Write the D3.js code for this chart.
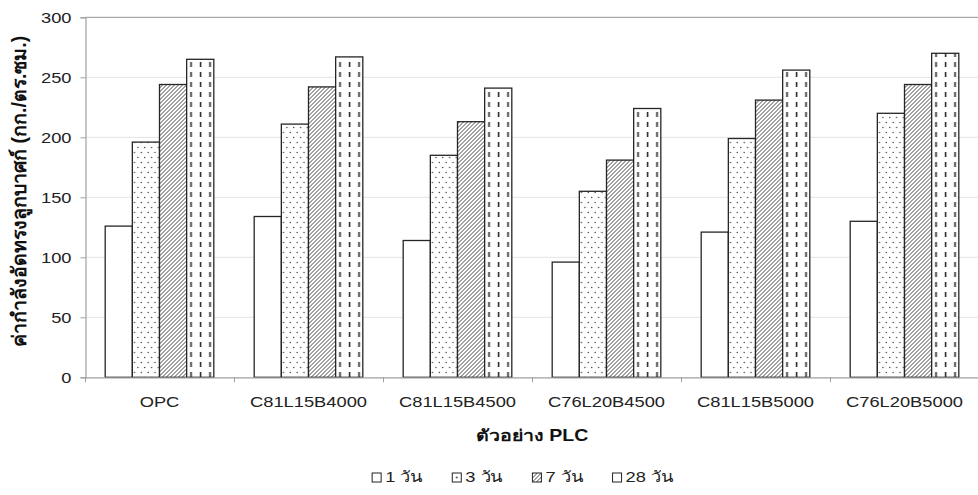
<!DOCTYPE html>
<html>
<head>
<meta charset="utf-8">
<script src="https://cdn.jsdelivr.net/npm/d3@7"></script>
<style>
  html, body { margin: 0; padding: 0; background: #fff; }
  svg { display: block; font-family: "Liberation Sans", Arial, "Noto Sans", sans-serif; }
</style>
</head>
<body>
<svg id="chart" width="978" height="495"></svg>
<script>
// ---- data ----
const categories = ["OPC", "C81L15B4000", "C81L15B4500", "C76L20B4500", "C81L15B5000", "C76L20B5000"];
const seriesNames = ["1 วัน", "3 วัน", "7 วัน", "28 วัน"];
const day1  = [126, 134, 114, 96, 121, 130];
const day3  = [196, 211, 185, 155, 199, 220];
const day7  = [244, 242, 213, 181, 231, 244];
const day28 = [265, 267, 241, 224, 256, 270];
const yTicks = [0, 50, 100, 150, 200, 250, 300];
const yLabel = "ค่ากำลังอัดทรงลูกบาศก์ (กก./ตร.ซม.)";
const xLabel = "ตัวอย่าง PLC";

(function () {
const seriesValues = [day1, day3, day7, day28];
const fills = ["#fff", "url(#pDots)", "url(#pHatch)", "url(#pDash)"];
const legendFills = ["#fff", "url(#pDotsL)", "url(#pHatch)", "#fff"];

const W = 978, H = 495;
const mLeft = 85.5, mRight = 979, mTop = 17.3, mBottom = 377.3;
const SX = 1.22; // horizontal stretch of text

const svg = d3.select("#chart");
const defs = svg.append("defs");

// dots pattern (staggered)
const pd = defs.append("pattern").attr("id", "pDots").attr("patternUnits", "userSpaceOnUse")
  .attr("width", 6.8).attr("height", 10);
pd.append("rect").attr("width", 6.8).attr("height", 10).attr("fill", "#fff");
pd.append("circle").attr("cx", 2.2).attr("cy", 2.5).attr("r", 0.75).attr("fill", "#444");
pd.append("circle").attr("cx", 5.6).attr("cy", 7.5).attr("r", 0.75).attr("fill", "#444");

const pdl = defs.append("pattern").attr("id", "pDotsL").attr("patternUnits", "userSpaceOnUse")
  .attr("width", 9).attr("height", 9);
pdl.append("rect").attr("width", 9).attr("height", 9).attr("fill", "#fff");
pdl.append("circle").attr("cx", 4.5).attr("cy", -4.5).attr("r", 0.9).attr("fill", "#333");
pdl.append("circle").attr("cx", 4.5).attr("cy", 4.5).attr("r", 0.9).attr("fill", "#333");

// diagonal hatch
const ph = defs.append("pattern").attr("id", "pHatch").attr("patternUnits", "userSpaceOnUse")
  .attr("width", 4).attr("height", 4);
ph.append("rect").attr("width", 4).attr("height", 4).attr("fill", "#fff");
ph.append("path").attr("d", "M-1,1 L1,-1 M0,4 L4,0 M3,5 L5,3")
  .attr("stroke", "#4a4a4a").attr("stroke-width", 1.0);

// vertical dashes
const pdash = defs.append("pattern").attr("id", "pDash").attr("patternUnits", "userSpaceOnUse")
  .attr("width", 9.5).attr("height", 10);
pdash.append("rect").attr("width", 9.5).attr("height", 10).attr("fill", "#fff");
pdash.append("line").attr("x1", 4.4).attr("x2", 4.4).attr("y1", 2).attr("y2", 7)
  .attr("stroke", "#2a2a2a").attr("stroke-width", 1.6);

// ---- scales ----
const x0 = d3.scaleBand().domain(categories).range([mLeft - 0.5, mRight])
  .paddingInner(0.271).paddingOuter(0.1355);
const x1 = d3.scaleBand().domain(d3.range(seriesNames.length)).range([0, x0.bandwidth()]);
const y = d3.scaleLinear().domain([0, 300]).range([mBottom, mTop]);

// gridlines
svg.append("g").selectAll("line").data(yTicks.filter(t => t > 0 && t < 300)).join("line")
  .attr("x1", mLeft).attr("x2", W).attr("y1", d => y(d)).attr("y2", d => y(d))
  .attr("stroke", "#e3e3e3").attr("stroke-width", 1);
// top border
svg.append("line").attr("x1", mLeft).attr("x2", W).attr("y1", y(300)).attr("y2", y(300))
  .attr("stroke", "#a8a8a8").attr("stroke-width", 1.2);

// bars
const groups = svg.append("g").selectAll("g").data(categories).join("g");
groups.each(function(cat, ci) {
  const g = d3.select(this);
  seriesValues.forEach((vals, si) => {
    const bx = x0(cat) + x1(si);
    g.append("g").attr("transform", `translate(${bx},0)`)
      .append("rect")
      .attr("x", 0).attr("y", y(vals[ci]))
      .attr("width", x1.bandwidth()).attr("height", y(0) - y(vals[ci]))
      .attr("fill", fills[si]).attr("stroke", "#262626").attr("stroke-width", 1.3);
  });
});

// y axis
const yAxis = svg.append("g").attr("transform", `translate(${mLeft},0)`)
  .call(d3.axisLeft(y).tickValues(yTicks).tickSize(5).tickPadding(0));
yAxis.select(".domain").attr("stroke", "#a0a0a0").attr("stroke-width", 1.2);
yAxis.selectAll(".tick line").attr("stroke", "#a0a0a0");
yAxis.selectAll(".tick text").attr("x", null)
  .attr("transform", `translate(-14,0) scale(${SX},1)`)
  .attr("font-size", 15).attr("fill", "#222")
  .attr("font-family", "'Liberation Sans', Arial, sans-serif");

// x axis
const xAxis = svg.append("g").attr("transform", `translate(0,${mBottom})`)
  .call(d3.axisBottom(x0).tickSize(0).tickPadding(0));
xAxis.select(".domain").attr("stroke", "#a0a0a0").attr("stroke-width", 1.2);
xAxis.selectAll(".tick text").attr("y", 19)
  .attr("transform", `scale(${SX},1)`)
  .attr("font-size", 15).attr("fill", "#222")
  .attr("font-family", "'Liberation Sans', Arial, sans-serif");
// boundary ticks
svg.append("g").selectAll("line").data(d3.range(categories.length + 1)).join("line")
  .attr("x1", i => mLeft + i * x0.step()).attr("x2", i => mLeft + i * x0.step())
  .attr("y1", mBottom).attr("y2", mBottom + 5)
  .attr("stroke", "#a0a0a0").attr("stroke-width", 1);

// axis titles
svg.append("text")
  .attr("transform", `translate(${(mLeft + mRight) / 2},441) scale(${SX},1)`)
  .attr("text-anchor", "middle").attr("font-size", 16).attr("font-weight", "bold")
  .attr("fill", "#111").text(xLabel);

svg.append("text")
  .attr("transform", `translate(26,${(mTop + mBottom) / 2 - 6}) rotate(-90)`)
  .attr("text-anchor", "middle").attr("font-size", 19.5).attr("font-weight", "bold")
  .attr("fill", "#111").text(yLabel);

// legend
const legend = svg.append("g");
const items = legend.selectAll("g").data(seriesNames).join("g");
items.append("rect").attr("x", 0).attr("y", -9).attr("width", 9).attr("height", 9)
  .attr("fill", (d, i) => legendFills[i]).attr("stroke", "#222").attr("stroke-width", 1);
items.append("text").attr("transform", `translate(13,0) scale(${SX},1)`)
  .attr("font-size", 15).attr("fill", "#222").text(d => d);
let cursor = 0;
const positions = [];
const gap = 30;
items.each(function() {
  const tw = d3.select(this).select("text").node().getComputedTextLength() * SX;
  positions.push(cursor);
  cursor += 13 + tw + gap;
});
const totalW = cursor - gap;
const lx0 = 522.5 - totalW / 2;
items.attr("transform", (d, i) => `translate(${lx0 + positions[i]},482)`);
})();
</script>
</body>
</html>
